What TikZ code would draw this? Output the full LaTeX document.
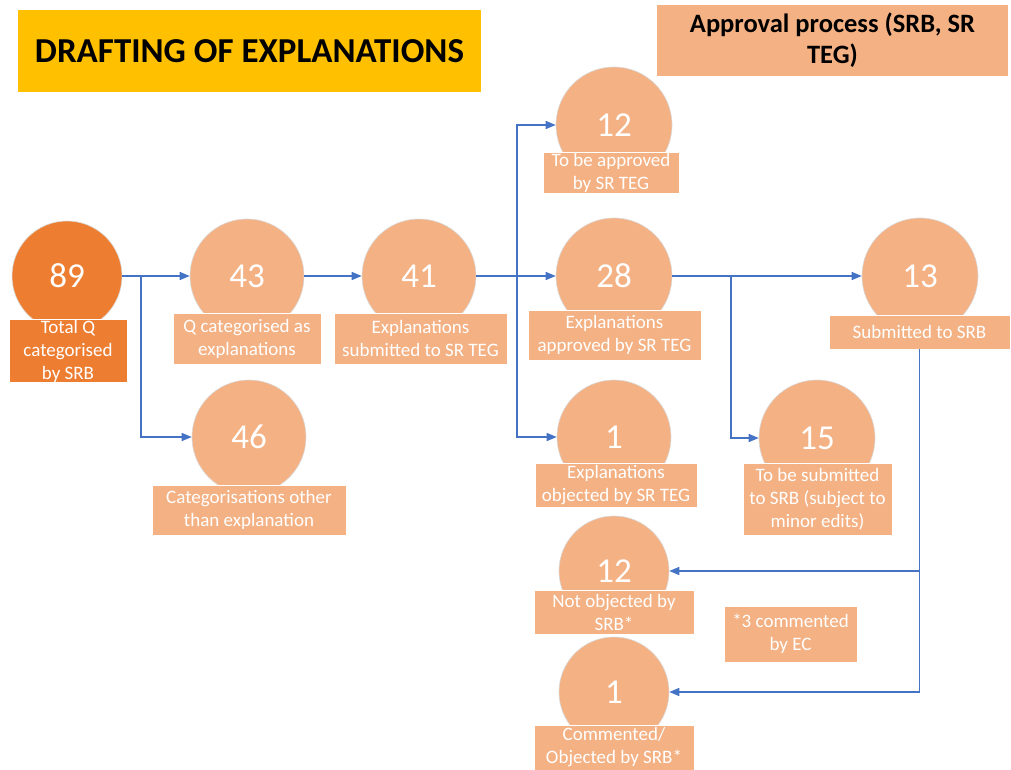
\documentclass[tikz,border=0pt]{standalone}
\usepackage{fontspec}
\setmainfont{Carlito}
\usetikzlibrary{arrows.meta}
\definecolor{lor}{HTML}{F4B183}
\definecolor{dor}{HTML}{ED7D31}
\definecolor{gold}{HTML}{FFC000}
\definecolor{lnk}{HTML}{4472C4}
\begin{document}
\begin{tikzpicture}[x=1pt,y=-1pt,
  circ/.style={circle, fill=lor, draw=black!15, line width=0.6pt, inner sep=0pt,
    text=white, font=\fontsize{35}{40}\selectfont},
  lab/.style={rectangle, fill=lor, draw=white, line width=0.8pt, text=white, align=center,
    inner sep=0pt, font=\fontsize{19}{23}\selectfont},
  seg/.style={draw=lnk, line width=1.5pt},
  conn/.style={seg, -{Triangle[length=10pt,width=8pt]}}]
\useasboundingbox (0,0) rectangle (1011,770);
% titles
\node[rectangle, fill=gold, minimum width=463pt, minimum height=82pt, inner sep=0pt,
  font=\fontsize{35}{40}\selectfont\bfseries] (title) at (249.5,51) {DRAFTING OF EXPLANATIONS};
\node[rectangle, fill=lor, minimum width=351pt, minimum height=71pt, inner sep=0pt, align=center,
  font=\fontsize{26.5}{31}\selectfont\bfseries] (appr) at (832.5,40.5) {Approval process (SRB, SR\\TEG)};
% circles
\node[circ, fill=dor, minimum size=110pt] (c89) at (67,276) {89};
\node[circ, minimum size=114pt] (c43) at (247,276) {43};
\node[circ, minimum size=114pt] (c41) at (419,276) {41};
\node[circ, minimum size=114pt] (c46) at (249,437) {46};
\node[circ, minimum size=116pt] (c12t) at (614,125) {12};
\node[circ, minimum size=116pt] (c28) at (614,276) {28};
\node[circ, minimum size=114pt] (c1) at (614,437) {1};
\node[circ, minimum size=116pt] (c13) at (920,276) {13};
\node[circ, minimum size=116pt] (c15) at (817,438) {15};
\node[circ, minimum size=110pt] (c12b) at (614,571) {12};
\node[circ, minimum size=110pt] (c1b) at (614,692) {1};
% labels
\node[lab, fill=dor, minimum width=118pt, minimum height=60pt] (l89) at (68,351) {Total Q\\categorised\\by SRB};
\node[lab, minimum width=148pt, minimum height=51pt] (l43) at (247,338.5) {Q categorised as\\explanations};
\node[lab, minimum width=173pt, minimum height=51pt] (l41) at (420.5,338.5) {Explanations\\submitted to SR TEG};
\node[lab, minimum width=194pt, minimum height=50pt] (l46) at (249,510) {Categorisations other\\than explanation};
\node[lab, minimum width=136pt, minimum height=41pt] (l12t) at (611,172.5) {To be approved\\by SR TEG};
\node[lab, minimum width=173pt, minimum height=50pt] (l28) at (614.5,335) {Explanations\\approved by SR TEG};
\node[lab, minimum width=162pt, minimum height=44pt] (l1) at (616,485) {Explanations\\objected by SR TEG};
\node[lab, minimum width=181pt, minimum height=34pt] (l13) at (919.5,332) {Submitted to SRB};
\node[lab, minimum width=149pt, minimum height=72pt] (l15) at (817.5,499) {To be submitted\\to SRB (subject to\\minor edits)};
\node[lab, minimum width=160pt, minimum height=44pt] (l12b) at (614,612) {Not objected by\\SRB*};
\node[lab, minimum width=133pt, minimum height=56pt] (note) at (790.5,634) {*3 commented\\by EC};
\node[lab, minimum width=160pt, minimum height=45pt] (l1b) at (614,747.5) {Commented/\\Objected by SRB*};
% junctions
\coordinate (j1) at (141,276);
\coordinate (j2) at (517,276);
\coordinate (j3) at (731,276);
% connectors
\draw[seg] (c89.east) -- (j1);
\draw[conn] (j1) -- (c43.west);
\draw[conn] (j1) |- (c46.west);
\draw[conn] (c43.east) -- (c41.west);
\draw[seg] (c41.east) -- (j2);
\draw[conn] (j2) -- (c28.west);
\draw[conn] (j2) |- (c12t.west);
\draw[conn] (j2) |- (c1.west);
\draw[seg] (c28.east) -- (j3);
\draw[conn] (j3) -- (c13.west);
\draw[conn] (j3) |- (c15.west);
\draw[conn] (l13.south) |- (c12b.east);
\draw[conn] (l13.south) |- (c1b.east);
\end{tikzpicture}
\end{document}
